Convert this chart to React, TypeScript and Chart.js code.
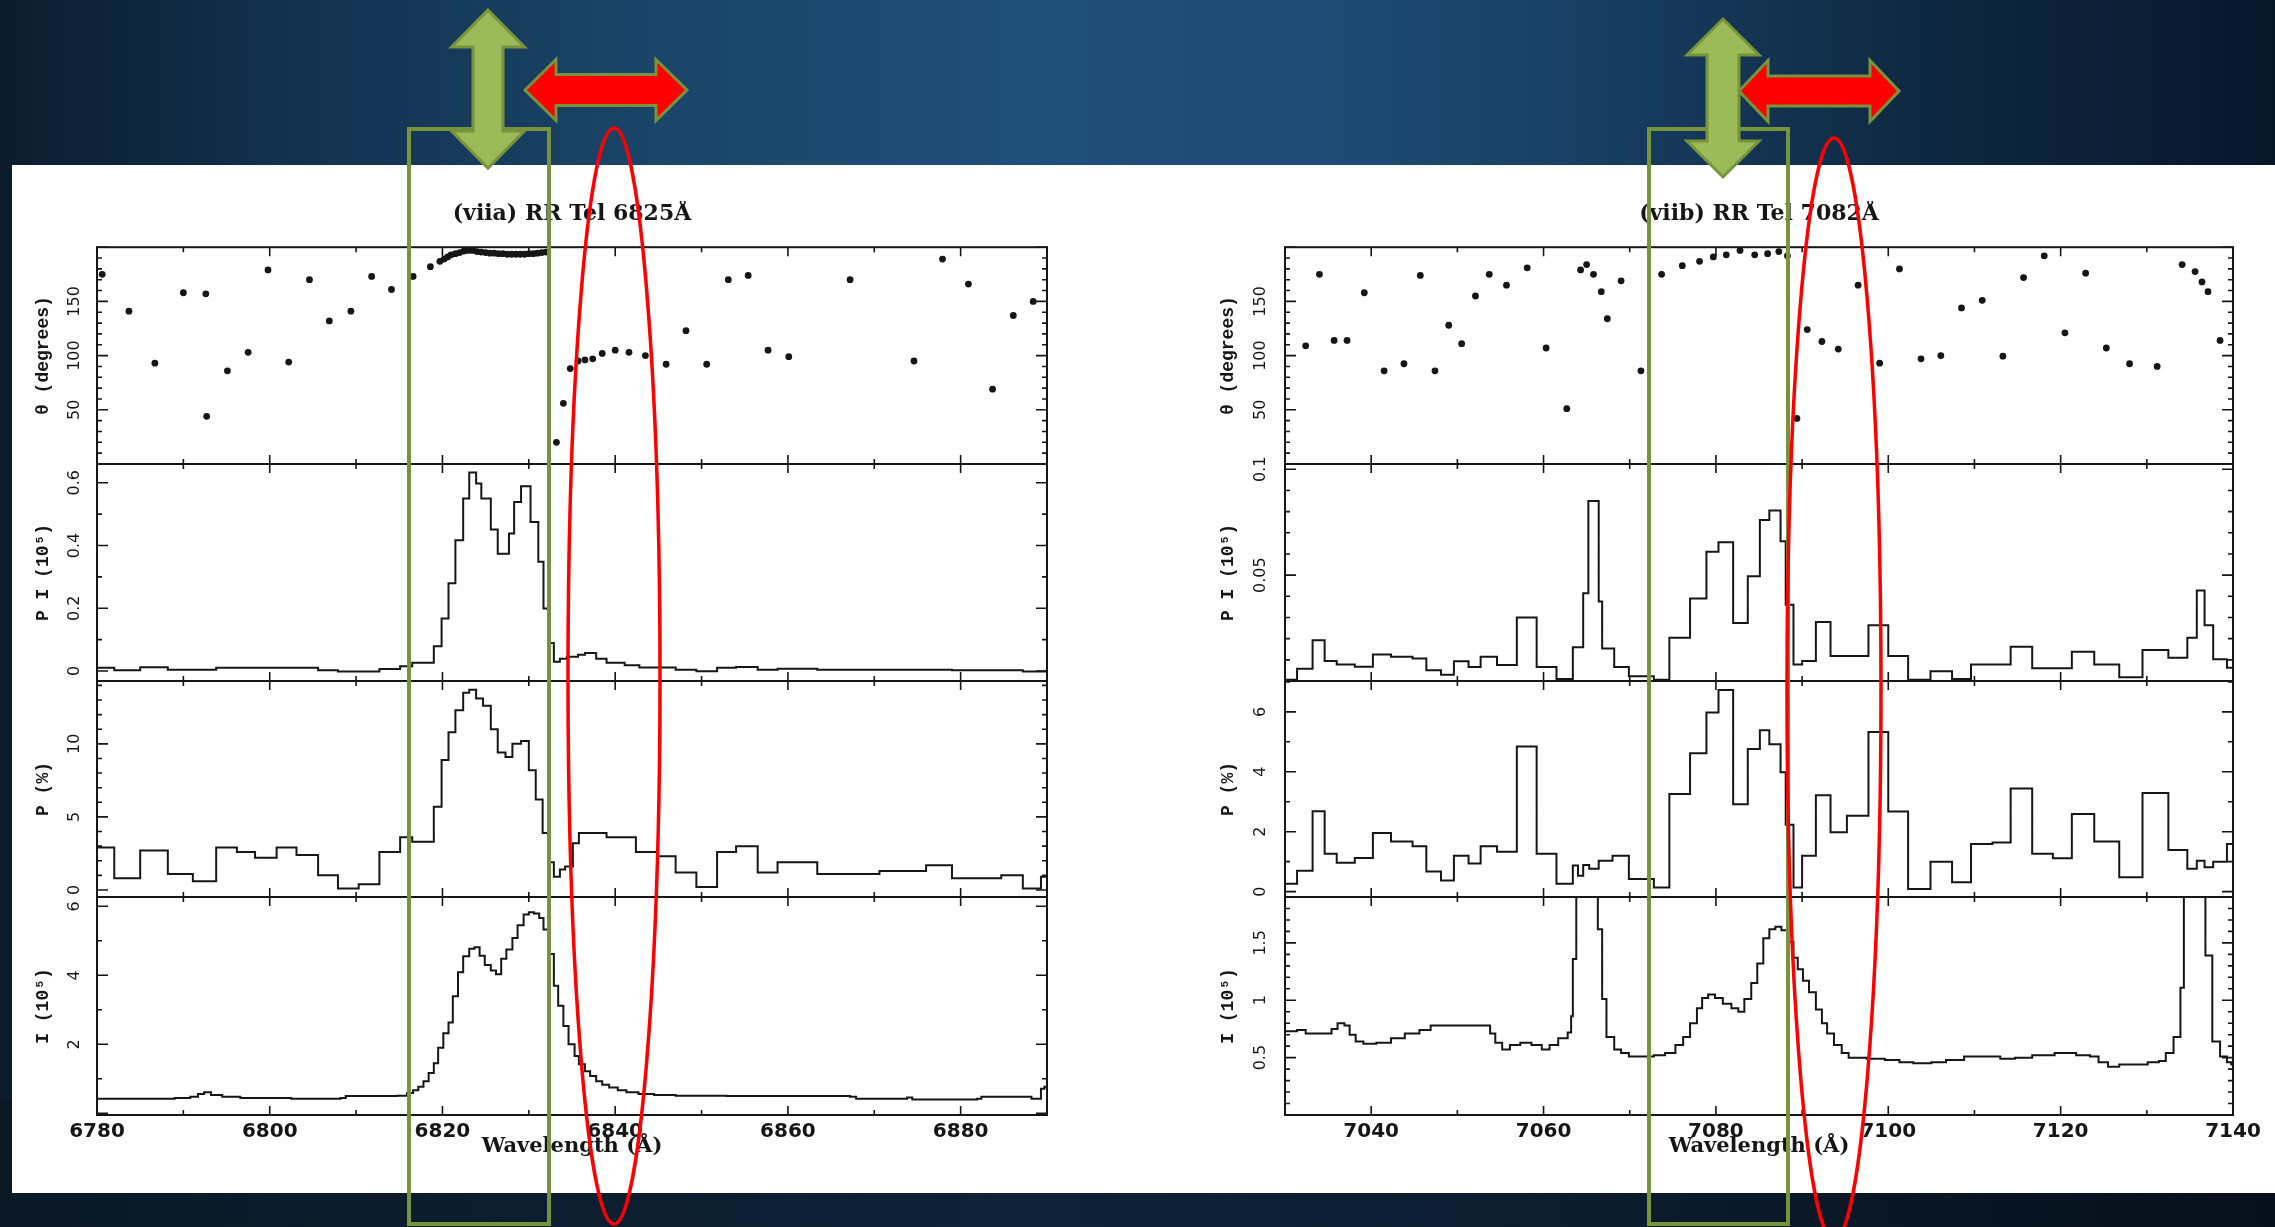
import React, { useEffect, useRef } from 'react';
import { Chart, registerables } from 'chart.js';

Chart.register(...registerables);

// ================= DATA: left figure (viia) =================
const leftTitle = '(viia) RR Tel 6825Å';
const leftXRange = [6780, 6890];
const leftXTicks = [6780, 6800, 6820, 6840, 6860, 6880];

const leftThetaWave = [6780.6, 6783.7, 6786.7, 6790.0, 6792.6, 6792.7, 6795.1, 6797.5, 6799.8, 6802.2, 6804.6, 6806.9, 6809.4, 6811.8, 6814.1, 6816.6, 6818.6, 6819.7, 6820.2, 6820.6, 6821.0, 6821.5, 6822.0, 6822.5, 6823.0, 6823.5, 6824.0, 6824.5, 6825.0, 6825.5, 6826.0, 6826.5, 6827.0, 6827.5, 6828.0, 6828.5, 6829.0, 6829.5, 6830.0, 6830.5, 6831.0, 6831.5, 6832.0, 6833.2, 6834.0, 6834.8, 6835.7, 6836.5, 6837.4, 6838.5, 6840.0, 6841.6, 6843.5, 6845.9, 6848.2, 6850.6, 6853.1, 6855.4, 6857.7, 6860.1, 6867.2, 6874.6, 6877.9, 6880.9, 6883.7, 6886.1, 6888.4];
const leftThetaDeg = [175, 141, 93, 158, 157, 44, 86, 103, 179, 94, 170, 132, 141, 173, 161, 173, 182, 187, 189, 191, 193, 194, 195, 196.5, 197, 197, 196, 195.5, 195, 194.5, 194.5, 194, 194, 193.5, 193.5, 193.5, 193.5, 193.5, 194, 194, 194.5, 195, 195.5, 20, 56, 88, 95, 96, 97, 102, 105, 103, 100, 92, 123, 92, 170, 174, 105, 99, 170, 95, 189, 166, 69, 137, 150];

const leftPIEdges = [6780, 6782, 6785, 6788.2, 6793.8, 6805.6, 6807.9, 6812.7, 6815.1, 6816.5, 6819.0, 6819.9, 6820.7, 6821.5, 6822.4, 6823.1, 6823.9, 6824.5, 6825.6, 6826.4, 6827.7, 6828.3, 6829.1, 6830.2, 6831.1, 6831.7, 6832.3, 6832.9, 6833.6, 6834.4, 6835.7, 6836.5, 6837.8, 6839.0, 6841.1, 6842.8, 6847.0, 6849.4, 6851.8, 6854.0, 6856.5, 6858.8, 6863.4, 6879.0, 6887.2, 6890];
const leftPIValues = [0.01, 0.002, 0.012, 0.004, 0.01, 0.002, -0.002, 0.006, 0.015, 0.026, 0.079, 0.167, 0.28, 0.417, 0.55, 0.633, 0.598, 0.55, 0.451, 0.374, 0.438, 0.539, 0.589, 0.475, 0.348, 0.199, 0.089, 0.029, 0.039, 0.045, 0.052, 0.057, 0.039, 0.026, 0.018, 0.011, 0.004, -0.001, 0.01, 0.013, 0.004, 0.007, 0.004, 0.002, -0.002];

const leftPEdges = [6780, 6782, 6785, 6788.2, 6791.1, 6793.8, 6796.2, 6798.3, 6800.8, 6803.1, 6805.6, 6807.9, 6810.3, 6812.7, 6815.1, 6816.5, 6819.0, 6819.9, 6820.7, 6821.5, 6822.4, 6823.1, 6823.9, 6824.7, 6825.6, 6826.4, 6827.3, 6828.1, 6829.1, 6830.0, 6830.8, 6831.6, 6832.3, 6832.9, 6833.6, 6834.2, 6835.1, 6835.8, 6839.0, 6842.4, 6844.9, 6847.0, 6849.4, 6851.8, 6854.0, 6856.5, 6858.8, 6863.4, 6870.6, 6876.0, 6879.0, 6884.7, 6887.2, 6889.3, 6890];
const leftPValues = [2.9, 0.8, 2.7, 1.1, 0.6, 2.9, 2.6, 2.2, 2.9, 2.4, 1.0, 0.1, 0.4, 2.6, 3.6, 3.3, 5.7, 8.9, 10.8, 12.3, 13.5, 13.7, 13.1, 12.6, 11.0, 9.4, 9.1, 10.0, 10.2, 8.2, 6.2, 3.9, 1.9, 0.9, 1.4, 1.6, 3.2, 3.9, 3.6, 2.6, 2.3, 1.2, 0.2, 2.6, 3.0, 1.2, 1.9, 1.1, 1.3, 1.7, 0.8, 1.0, 0.1, 0.9];

const leftIWave = [6780.0, 6789.0, 6790.8, 6791.7, 6792.4, 6793.2, 6794.5, 6796.6, 6802.5, 6808.2, 6808.8, 6814.7, 6815.9, 6816.6, 6817.2, 6817.8, 6818.4, 6819.0, 6819.5, 6820.1, 6820.7, 6821.2, 6821.8, 6822.4, 6823.1, 6823.7, 6824.3, 6824.9, 6825.6, 6826.2, 6826.8, 6827.4, 6828.1, 6828.7, 6829.4, 6830.0, 6830.6, 6831.2, 6831.7, 6832.3, 6832.9, 6833.4, 6834.0, 6834.6, 6835.3, 6835.8, 6836.5, 6837.1, 6837.8, 6838.5, 6839.3, 6840.3, 6841.3, 6842.7, 6844.5, 6847.0, 6852.9, 6867.2, 6867.9, 6873.1, 6873.8, 6874.4, 6881.9, 6882.4, 6887.4, 6888.2, 6889.3, 6889.7];
const leftIFlux = [0.42, 0.44, 0.48, 0.56, 0.61, 0.53, 0.48, 0.44, 0.42, 0.44, 0.50, 0.51, 0.59, 0.67, 0.77, 0.93, 1.17, 1.45, 1.90, 2.32, 2.63, 3.39, 4.09, 4.55, 4.77, 4.81, 4.57, 4.30, 4.14, 4.03, 4.48, 4.75, 5.08, 5.45, 5.76, 5.83, 5.79, 5.66, 5.33, 4.62, 3.70, 3.12, 2.53, 2.00, 1.66, 1.42, 1.22, 1.08, 0.93, 0.83, 0.75, 0.67, 0.61, 0.56, 0.53, 0.51, 0.50, 0.48, 0.42, 0.42, 0.46, 0.40, 0.42, 0.48, 0.48, 0.42, 0.71, 0.77];

// ================= DATA: right figure (viib) =================
const rightTitle = '(viib) RR Tel 7082Å';
const rightXRange = [7030, 7140];
const rightXTicks = [7040, 7060, 7080, 7100, 7120, 7140];

const rightThetaWave = [7032.4, 7034.0, 7035.7, 7037.2, 7039.2, 7041.5, 7043.8, 7045.7, 7047.4, 7049.0, 7050.5, 7052.1, 7053.7, 7055.7, 7058.1, 7060.3, 7062.7, 7064.3, 7065.0, 7065.8, 7066.7, 7067.4, 7069.0, 7071.3, 7073.7, 7076.1, 7078.1, 7079.7, 7081.2, 7082.8, 7084.5, 7086.0, 7087.3, 7088.3, 7089.4, 7090.6, 7092.3, 7094.2, 7096.5, 7099.0, 7101.3, 7103.8, 7106.1, 7108.5, 7110.9, 7113.3, 7115.7, 7118.1, 7120.5, 7122.9, 7125.3, 7128.0, 7131.2, 7134.1, 7135.6, 7136.4, 7137.1, 7138.5];
const rightThetaDeg = [109, 175, 114, 114, 158, 86, 92.5, 174, 86, 128, 111, 155, 175, 165, 181, 107, 51, 179, 184, 175, 159, 134, 169, 86, 175, 183, 187, 191, 193, 197, 193, 194, 196, 192, 42, 124, 113, 106, 165, 93, 180, 97, 100, 144, 151, 99.5, 172, 192, 121, 176, 107, 92.5, 90, 184, 177.5, 168, 159, 114];

const rightPIEdges = [7030, 7031.4, 7033.2, 7034.6, 7036.0, 7038.1, 7040.2, 7042.3, 7044.8, 7046.4, 7048.1, 7049.6, 7051.3, 7052.7, 7054.6, 7056.9, 7059.2, 7061.5, 7063.4, 7064.6, 7065.2, 7066.4, 7066.8, 7068.2, 7069.9, 7072.8, 7074.6, 7077.0, 7078.9, 7080.3, 7082.0, 7083.7, 7085.1, 7086.2, 7087.5, 7088.1, 7089.0, 7090.0, 7091.6, 7093.3, 7097.7, 7100.0, 7102.3, 7104.9, 7107.4, 7109.6, 7114.2, 7116.7, 7121.3, 7123.9, 7126.8, 7129.5, 7132.5, 7134.7, 7135.8, 7136.7, 7137.7, 7139.3, 7140];
const rightPIValues = [0.0006, 0.0058, 0.0192, 0.0095, 0.0078, 0.0067, 0.0125, 0.0114, 0.0106, 0.0051, 0.003, 0.0093, 0.0066, 0.0115, 0.0075, 0.030, 0.0066, 0.001, 0.0159, 0.0415, 0.085, 0.0375, 0.0154, 0.0066, 0.0022, 0.0006, 0.0204, 0.039, 0.061, 0.0655, 0.0274, 0.0495, 0.076, 0.0805, 0.066, 0.036, 0.0078, 0.0094, 0.0279, 0.0118, 0.0263, 0.0118, 0.0006, 0.0046, 0.001, 0.0078, 0.0162, 0.006, 0.0138, 0.0078, 0.0018, 0.0147, 0.011, 0.0204, 0.0428, 0.0263, 0.0103, 0.0063];

const rightPEdges = [7030, 7031.4, 7033.2, 7034.6, 7036.0, 7038.1, 7040.2, 7042.3, 7044.8, 7046.4, 7048.1, 7049.6, 7051.3, 7052.7, 7054.6, 7056.9, 7059.2, 7061.5, 7063.4, 7064.0, 7064.6, 7065.3, 7066.4, 7068.0, 7069.9, 7072.8, 7074.6, 7077.0, 7078.9, 7080.3, 7082.0, 7083.7, 7085.1, 7086.2, 7087.5, 7088.1, 7089.0, 7090.0, 7091.6, 7093.3, 7095.2, 7097.7, 7100.0, 7102.3, 7104.9, 7107.4, 7109.6, 7112.1, 7114.2, 7116.7, 7119.1, 7121.3, 7123.9, 7126.8, 7129.5, 7132.5, 7134.7, 7135.8, 7136.7, 7137.7, 7139.3, 7140];
const rightPValues = [0.26, 0.7, 2.68, 1.26, 0.96, 1.12, 1.96, 1.67, 1.51, 0.67, 0.37, 1.2, 0.94, 1.51, 1.33, 4.84, 1.26, 0.26, 0.87, 0.53, 0.89, 0.76, 1.03, 1.2, 0.42, 0.14, 3.26, 4.62, 5.98, 6.73, 2.92, 4.76, 5.39, 4.92, 3.98, 2.23, 0.14, 1.2, 3.22, 1.98, 2.53, 5.33, 2.67, 0.09, 1.0, 0.31, 1.59, 1.64, 3.44, 1.26, 1.11, 2.59, 1.67, 0.48, 3.29, 1.39, 0.76, 1.03, 0.81, 1.0, 1.59];

const rightIWave = [7030.0, 7031.4, 7032.4, 7034.3, 7035.4, 7036.1, 7036.9, 7037.5, 7038.2, 7039.1, 7040.6, 7042.3, 7043.9, 7045.6, 7046.9, 7053.8, 7054.4, 7055.2, 7056.1, 7057.3, 7058.6, 7059.8, 7060.7, 7061.7, 7062.8, 7063.2, 7063.4, 7063.8, 7066.3, 7066.8, 7067.3, 7068.2, 7069.0, 7069.9, 7072.8, 7074.1, 7075.3, 7076.2, 7077.0, 7077.8, 7078.4, 7079.1, 7079.9, 7080.8, 7081.8, 7082.6, 7083.3, 7084.1, 7084.8, 7085.5, 7086.2, 7086.9, 7087.6, 7088.3, 7089.0, 7089.5, 7090.1, 7090.8, 7091.6, 7092.3, 7092.9, 7093.7, 7094.6, 7095.4, 7097.5, 7099.6, 7101.3, 7102.9, 7105.0, 7106.7, 7108.8, 7110.9, 7113.0, 7114.7, 7116.7, 7119.3, 7121.8, 7123.4, 7124.4, 7125.5, 7126.8, 7130.1, 7131.4, 7132.2, 7133.1, 7133.9, 7134.3, 7136.8, 7137.6, 7138.5, 7139.3, 7139.8];
const rightIFlux = [0.73, 0.74, 0.71, 0.71, 0.75, 0.80, 0.78, 0.70, 0.64, 0.62, 0.63, 0.67, 0.71, 0.74, 0.78, 0.71, 0.63, 0.57, 0.61, 0.63, 0.61, 0.57, 0.61, 0.67, 0.72, 0.86, 1.36, 2.5, 1.62, 1.01, 0.68, 0.57, 0.54, 0.51, 0.52, 0.54, 0.61, 0.68, 0.80, 0.93, 1.02, 1.05, 1.02, 0.97, 0.93, 0.90, 1.01, 1.15, 1.32, 1.54, 1.62, 1.64, 1.61, 1.51, 1.37, 1.27, 1.17, 1.07, 0.92, 0.80, 0.71, 0.61, 0.54, 0.50, 0.49, 0.48, 0.46, 0.45, 0.46, 0.48, 0.51, 0.51, 0.49, 0.50, 0.52, 0.54, 0.52, 0.51, 0.46, 0.42, 0.44, 0.46, 0.47, 0.54, 0.68, 1.11, 2.5, 1.39, 0.64, 0.51, 0.46, 0.44];

// ================= y tick labels =================
const thetaTicks = [50, 100, 150];
const leftPITicks = [0, 0.2, 0.4, 0.6];
const leftPTicks = [0, 5, 10];
const leftITicks = [2, 4, 6];
const rightPITicks = [0.05, 0.1];
const rightPTicks = [0, 2, 4, 6];
const rightITicks = [0.5, 1, 1.5];

// ================= helpers =================
function histogram(edges: number[], values: number[]) {
  const pts: { x: number; y: number }[] = [];
  for (let i = 0; i < values.length && i + 1 < edges.length; i++) {
    pts.push({ x: edges[i], y: values[i] });
    pts.push({ x: edges[i + 1], y: values[i] });
  }
  return pts;
}
function samples(xs: number[], ys: number[], end: number) {
  return histogram([...xs, end], ys);
}
function zip(xs: number[], ys: number[]) {
  return xs.map((x, i) => ({ x, y: ys[i] }));
}
function stepsIn(min: number, max: number, step: number) {
  const out: number[] = [];
  const start = Math.ceil(min / step - 1e-9);
  for (let k = start; k * step <= max + 1e-9; k++) out.push(k * step);
  return out;
}
function isMult(v: number, step: number) {
  return Math.abs(v / step - Math.round(v / step)) < 1e-6;
}

const measureCtx: any = document.createElement('canvas').getContext('2d');
function textWidth(t: string, font: string) {
  measureCtx.font = font;
  return measureCtx.measureText(t).width;
}

// ================= layout =================
const PANEL_TOPS = [247, 464, 681, 897];
const PANEL_BOTTOMS = [464, 681, 897, 1115];
const AXIS_W = 85;
const RIGHT_PAD = 60;
const PAD_V = 40;
const TITLE_FONT = { family: 'DejaVu Serif', size: 22, weight: 'bold' as const };
const TITLE_PAD_BOTTOM = 19.8;
const TITLE_H = TITLE_FONT.size * 1.2 + TITLE_PAD_BOTTOM;
const XAXIS_H = 44;
const BOTTOM_PAD = 10;
const INK = '#161616';

const Y_TICK_FONT = { family: 'DejaVu Sans', size: 16 };
const Y_TITLE_FONT = { family: 'Liberation Mono', size: 18, weight: 'bold' as const };
const X_TICK_FONT = { family: 'DejaVu Sans', size: 20, weight: 'bold' as const };
const X_TITLE_FONT = { family: 'DejaVu Serif', size: 21, weight: 'bold' as const };

type PanelDef = {
  yRange: number[];
  yMajor: number;
  yMinor: number;
  yTicks: number[];
  yTitle: string;
  kind: 'points' | 'line';
  points: { x: number; y: number }[];
};
type FigDef = {
  id: string;
  title: string;
  plotLeft: number;
  plotRight: number;
  xRange: number[];
  xTicks: number[];
  yLabelGap: number;
  yTitleGap: number;
  panels: PanelDef[];
};

const FIGURES: FigDef[] = [
  {
    id: 'viia',
    title: leftTitle,
    plotLeft: 97,
    plotRight: 1047,
    xRange: leftXRange,
    xTicks: leftXTicks,
    yLabelGap: 22,
    yTitleGap: 54,
    panels: [
      { yRange: [0, 200], yMajor: 50, yMinor: 10, yTicks: thetaTicks, yTitle: 'θ (degrees)', kind: 'points', points: zip(leftThetaWave, leftThetaDeg) },
      { yRange: [-0.032, 0.66], yMajor: 0.2, yMinor: 0.1, yTicks: leftPITicks, yTitle: 'P I (10⁵)', kind: 'line', points: histogram(leftPIEdges, leftPIValues) },
      { yRange: [-0.48, 14.3], yMajor: 5, yMinor: 1, yTicks: leftPTicks, yTitle: 'P (%)', kind: 'line', points: histogram(leftPEdges, leftPValues) },
      { yRange: [-0.05, 6.27], yMajor: 2, yMinor: 1, yTicks: leftITicks, yTitle: 'I (10⁵)', kind: 'line', points: samples(leftIWave, leftIFlux, leftXRange[1]) },
    ],
  },
  {
    id: 'viib',
    title: rightTitle,
    plotLeft: 1285,
    plotRight: 2233,
    xRange: rightXRange,
    xTicks: rightXTicks,
    yLabelGap: 24,
    yTitleGap: 57,
    panels: [
      { yRange: [0, 200], yMajor: 50, yMinor: 10, yTicks: thetaTicks, yTitle: 'θ (degrees)', kind: 'points', points: zip(rightThetaWave, rightThetaDeg) },
      { yRange: [0, 0.1025], yMajor: 0.05, yMinor: 0.01, yTicks: rightPITicks, yTitle: 'P I (10⁵)', kind: 'line', points: histogram(rightPIEdges, rightPIValues) },
      { yRange: [-0.18, 7.03], yMajor: 2, yMinor: 1, yTicks: rightPTicks, yTitle: 'P (%)', kind: 'line', points: histogram(rightPEdges, rightPValues) },
      { yRange: [0, 1.9], yMajor: 0.5, yMinor: 0.1, yTicks: rightITicks, yTitle: 'I (10⁵)', kind: 'line', points: samples(rightIWave, rightIFlux, rightXRange[1]) },
    ],
  },
];

// frame + inward PGPLOT-like ticks
const pgFrame = {
  id: 'pgframe',
  afterDraw(chart: any, _args: any, o: any) {
    const { ctx, chartArea: a } = chart;
    const xs = chart.scales.x;
    const ys = chart.scales.y;
    ctx.save();
    ctx.strokeStyle = INK;
    ctx.lineWidth = 1.6;
    ctx.beginPath();
    for (const v of stepsIn(xs.min, xs.max, o.xMinor)) {
      const len = isMult(v, o.xMajor) ? 9 : 5;
      const px = xs.getPixelForValue(v);
      ctx.moveTo(px, a.top);
      ctx.lineTo(px, a.top + len);
      ctx.moveTo(px, a.bottom);
      ctx.lineTo(px, a.bottom - len);
    }
    for (const v of stepsIn(ys.min, ys.max, o.yMinor)) {
      const len = isMult(v, o.yMajor) ? 11 : 5;
      const py = ys.getPixelForValue(v);
      ctx.moveTo(a.left, py);
      ctx.lineTo(a.left + len, py);
      ctx.moveTo(a.right, py);
      ctx.lineTo(a.right - len, py);
    }
    ctx.stroke();
    ctx.lineWidth = 2;
    ctx.strokeRect(a.left, a.top, a.right - a.left, a.bottom - a.top);
    ctx.restore();
  },
};

function Panel({ fig, panel, index }: { fig: FigDef; panel: PanelDef; index: number }) {
  const ref = useRef<HTMLCanvasElement>(null);
  const isTop = index === 0;
  const isBottom = index === 3;
  const top = PANEL_TOPS[index];
  const bottom = PANEL_BOTTOMS[index];
  const above = isTop ? TITLE_H : PAD_V;
  const below = isBottom ? XAXIS_H + BOTTOM_PAD : PAD_V;
  const width = AXIS_W + (fig.plotRight - fig.plotLeft) + RIGHT_PAD;
  const height = Math.round(above + (bottom - top) + below);
  const left = fig.plotLeft - AXIS_W;
  const canvasTop = top - above;

  useEffect(() => {
    if (!ref.current) return;
    const yFontStr = `normal ${Y_TICK_FONT.size}px ${Y_TICK_FONT.family}`;
    const widest = Math.max(...panel.yTicks.map((v) => textWidth(String(v), yFontStr)));
    const yPad = Math.max(0, fig.yLabelGap - widest / 2);
    const yTitlePadTop = AXIS_W - fig.yTitleGap - (Y_TITLE_FONT.size * 1.2) / 2;

    const dataset: any =
      panel.kind === 'points'
        ? {
            data: panel.points,
            showLine: false,
            pointRadius: 3.4,
            pointBackgroundColor: INK,
            pointBorderWidth: 0,
            borderWidth: 0,
          }
        : {
            data: panel.points,
            borderColor: INK,
            borderWidth: 2,
            pointRadius: 0,
            fill: false,
            tension: 0,
          };

    const chart = new Chart(ref.current, {
      type: 'line',
      data: { datasets: [dataset] },
      plugins: [pgFrame as any],
      options: {
        animation: false,
        responsive: false,
        maintainAspectRatio: false,
        devicePixelRatio: 1,
        events: [],
        layout: {
          padding: { left: 0, right: RIGHT_PAD, top: isTop ? 0 : PAD_V, bottom: isBottom ? BOTTOM_PAD : PAD_V },
        },
        plugins: {
          legend: { display: false },
          tooltip: { enabled: false },
          title: {
            display: isTop,
            text: fig.title,
            font: TITLE_FONT,
            color: INK,
            fullSize: false,
            align: 'center',
            padding: { top: 0, bottom: TITLE_PAD_BOTTOM },
          },
          pgframe: { xMajor: 20, xMinor: 10, yMajor: panel.yMajor, yMinor: panel.yMinor },
        } as any,
        scales: {
          x: {
            type: 'linear',
            min: fig.xRange[0],
            max: fig.xRange[1],
            display: isBottom,
            position: 'bottom',
            grid: { display: false, drawTicks: false },
            border: { display: false },
            afterBuildTicks: (s: any) => {
              s.ticks = fig.xTicks.map((v) => ({ value: v }));
            },
            afterFit: (s: any) => {
              s.height = isBottom ? XAXIS_H : 0;
            },
            ticks: {
              autoSkip: false,
              maxRotation: 0,
              minRotation: 0,
              padding: 5,
              font: X_TICK_FONT,
              color: INK,
              callback: (v: any) => String(v),
            },
            title: {
              display: isBottom,
              text: 'Wavelength (Å)',
              font: X_TITLE_FONT,
              color: INK,
              padding: { top: 0, bottom: 0 },
            },
          },
          y: {
            type: 'linear',
            min: panel.yRange[0],
            max: panel.yRange[1],
            position: 'left',
            grid: { display: false, drawTicks: false },
            border: { display: false },
            afterBuildTicks: (s: any) => {
              s.ticks = panel.yTicks.map((v) => ({ value: v }));
            },
            afterFit: (s: any) => {
              s.width = AXIS_W;
            },
            ticks: {
              autoSkip: false,
              minRotation: 90,
              maxRotation: 90,
              crossAlign: 'center',
              padding: yPad,
              font: Y_TICK_FONT,
              color: INK,
              callback: (v: any) => String(v),
            },
            title: {
              display: true,
              text: panel.yTitle,
              font: Y_TITLE_FONT,
              color: INK,
              padding: { top: yTitlePadTop, bottom: 0 },
            },
          },
        } as any,
      },
    });
    return () => chart.destroy();
  }, []);

  return (
    <canvas
      ref={ref}
      width={width}
      height={height}
      style={{ position: 'absolute', left, top: canvasTop, width, height }}
    />
  );
}

// ================= slide annotations =================
function vArrow(cx: number, t: number, b: number, hh: number, sh: number, hl: number) {
  return [
    [cx, t], [cx + hh, t + hl], [cx + sh, t + hl], [cx + sh, b - hl], [cx + hh, b - hl],
    [cx, b], [cx - hh, b - hl], [cx - sh, b - hl], [cx - sh, t + hl], [cx - hh, t + hl],
  ].map((p) => p.join(',')).join(' ');
}
function hArrow(cy: number, l: number, r: number, hh: number, sh: number, hl: number) {
  return [
    [l, cy], [l + hl, cy - hh], [l + hl, cy - sh], [r - hl, cy - sh], [r - hl, cy - hh],
    [r, cy], [r - hl, cy + hh], [r - hl, cy + sh], [l + hl, cy + sh], [l + hl, cy + hh],
  ].map((p) => p.join(',')).join(' ');
}

const GREEN_LINE = '#77933C';
const GREEN_FILL = '#9BBB59';
const RED = '#FF0000';

function Overlay() {
  return (
    <svg width={2275} height={1227} style={{ position: 'absolute', left: 0, top: 0, pointerEvents: 'none' }}>
      <rect x={409} y={129} width={140} height={1095} fill="none" stroke={GREEN_LINE} strokeWidth={4} />
      <rect x={1649} y={129} width={139} height={1095} fill="none" stroke={GREEN_LINE} strokeWidth={4} />
      <ellipse cx={614} cy={676} rx={46} ry={548} fill="none" stroke={RED} strokeWidth={3.5} />
      <ellipse cx={1834} cy={689} rx={47} ry={551} fill="none" stroke={RED} strokeWidth={3.5} />
      <polygon points={vArrow(488, 10, 168, 36.5, 15, 37)} fill={GREEN_FILL} stroke={GREEN_LINE} strokeWidth={3} />
      <polygon points={vArrow(1723, 19, 177, 36, 16, 36)} fill={GREEN_FILL} stroke={GREEN_LINE} strokeWidth={3} />
      <polygon points={hArrow(90, 525, 687, 30.5, 15.5, 31)} fill={RED} stroke={GREEN_LINE} strokeWidth={3} />
      <polygon points={hArrow(91, 1739, 1899, 30.5, 15, 29)} fill={RED} stroke={GREEN_LINE} strokeWidth={3} />
    </svg>
  );
}

export default function App() {
  return (
    <div
      style={{
        position: 'absolute',
        left: 0,
        top: 0,
        width: 2275,
        height: 1227,
        overflow: 'hidden',
        background:
          'linear-gradient(90deg, #0c1c2d 0%, #12304d 12%, #1a4467 28%, #1f4e79 45%, #1e4b75 58%, #183e62 70%, #0f2942 84%, #08162a 100%)',
      }}
    >
      <div
        style={{
          position: 'absolute',
          left: 0,
          top: 1100,
          width: 2275,
          height: 127,
          background: 'linear-gradient(90deg, #0a1826 0%, #0d2236 45%, #0b1c2e 70%, #070f1a 100%)',
        }}
      />
      <div style={{ position: 'absolute', left: 12, top: 165, width: 2263, height: 1028, background: '#ffffff' }} />
      {FIGURES.map((fig) =>
        fig.panels.map((p, i) => <Panel key={fig.id + i} fig={fig} panel={p} index={i} />)
      )}
      <Overlay />
    </div>
  );
}
